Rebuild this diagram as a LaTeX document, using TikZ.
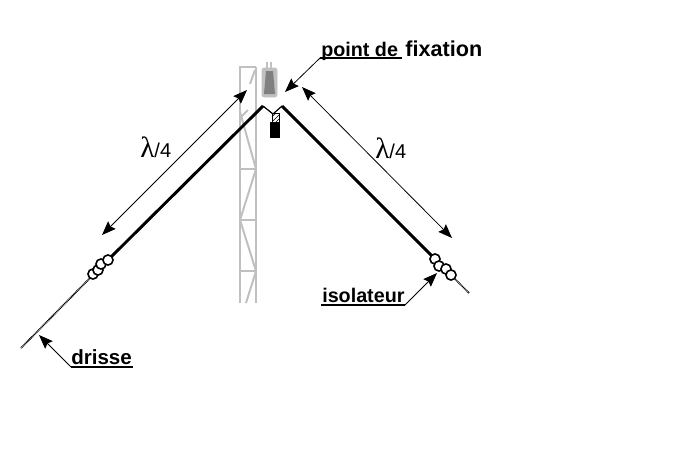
\documentclass[tikz,border=0pt]{standalone}
\usepackage{fontspec}
\setmainfont{Liberation Sans}
\newfontfamily\greekfont{Liberation Serif}
\usetikzlibrary{positioning}
\usetikzlibrary{arrows.meta}
\definecolor{towergray}{RGB}{192,192,192}
\definecolor{blockgray}{RGB}{128,128,128}
\tikzstyle{novertex} = [draw=none, fill=none, inner sep=0pt, anchor=base west, font=\fontsize{14.8}{15}\selectfont\bfseries]
\tikzstyle{lambdanode} = [draw=none, fill=none, inner sep=0pt, anchor=base west, font=\fontsize{15}{15}\selectfont]
\tikzstyle{tower} = [draw=towergray, line width=1.5pt]
\tikzstyle{wire} = [draw, line width=2.2pt]
\tikzstyle{rope} = [draw, line width=1.3pt, dash pattern=on 0.7pt off 0.5pt]
\tikzstyle{bead} = [circle, draw, fill=white, line width=1.2pt, inner sep=0pt, minimum size=7.6pt]
\tikzstyle{measure} = [draw, line width=0.6pt, {Stealth[length=10.5pt,width=8pt,inset=1.5pt]}-{Stealth[length=10.5pt,width=8pt,inset=1.5pt]}]
\tikzstyle{leader} = [draw, line width=0.6pt, -{Stealth[length=10.5pt,width=8pt,inset=1.5pt]}]
\tikzstyle{underline} = [draw, line width=0.9pt]

\begin{document}
\begin{tikzpicture}[x=0.75pt, y=-0.75pt]
	\useasboundingbox (0,0) rectangle (680,472);
	% mast
	\draw [tower] (256,67) -- (240,67) -- (240,303);
	\draw [tower] (256,67) -- (256,303);
	\draw [tower] (240,169) -- (256,169);
	\draw [tower] (240,220) -- (256,220);
	\draw [tower] (240,271) -- (256,271);
	\draw [tower] (255,70) -- (250,84);
	\draw [tower] (240,112) -- (256,169) -- (240,220) -- (256,271) -- (246,303);
	\draw [tower] (240,118) -- (248,110);
	% fixing block
	\draw [towergray, line width=1pt] (267,62) -- (267,68) (271,62) -- (271,68);
	\draw [draw=towergray, fill=towergray, rounded corners=1.5pt] (262,68) rectangle (277,97);
	\draw [draw=none, fill=blockgray] (266,71) -- (273,71) -- (275,94) -- (264,94) -- cycle;
	\draw [fill=white, line width=0.5pt] (272,113) rectangle (279,122);
	\draw [line width=0.4pt] (272,117) -- (276,113) (273,121) -- (279,115) (276,122) -- (279,119);
	\draw [fill=black] (270,122) rectangle (279,137);
	% place nodes
	\coordinate (topL) at (263,106);
	\coordinate (topR) at (282,106);
	\coordinate (hang) at (273,114);
	\coordinate (insL) at (110,258);
	\coordinate (insR) at (433,257);
	\coordinate (ropeL) at (92,276);
	\coordinate (ropeR) at (453,277);
	\coordinate (endL) at (21,348);
	\coordinate (endR) at (469,293);
	\coordinate (spanLa) at (247,90);
	\coordinate (spanLb) at (102,235);
	\coordinate (spanRa) at (302,87);
	\coordinate (spanRb) at (452,238);
	\coordinate (fixTip) at (285,92);
	\coordinate (fixKnee) at (320,58);
	\coordinate (fixEnd) at (402,58);
	\coordinate (isoTip) at (437,273);
	\coordinate (isoKnee) at (405,305);
	\coordinate (isoEnd) at (321,305);
	\coordinate (driTip) at (39,335);
	\coordinate (driKnee) at (71,367);
	\coordinate (driEnd) at (133,367);
	\node [novertex] (Nfix) at (321,56) {point de\hspace{1.5pt} {\fontsize{16.2}{16}\selectfont fixation}};
	\node [novertex] (Niso) at (322,302) {isolateur};
	\node [novertex, font=\fontsize{15.4}{15}\selectfont\bfseries] (Ndri) at (71,364) {drisse};
	\node [lambdanode] (Nla) at (140,157) {{\greekfont\fontsize{22}{22}\selectfont λ}/4};
	\node [lambdanode] (Nlb) at (375,158) {{\greekfont\fontsize{22}{22}\selectfont λ}/4};

	% draw edges
	\path [rope] (ropeL) -- (endL);
	\path [rope] (ropeR) -- (endR);
	\path [wire] (insL) -- (topL);
	\path [wire] (insR) -- (topR);
	\draw [line width=0.9pt] (topL) -- (hang);
	\draw [line width=0.9pt] (topR) -- (hang);
	\path [measure] (spanLa) -- (spanLb);
	\path [measure] (spanRa) -- (spanRb);
	\path [leader] (fixKnee) -- (fixTip);
	\path [leader] (isoKnee) -- (isoTip);
	\path [leader] (driKnee) -- (driTip);
	\path [underline] (fixKnee) -- (fixEnd);
	\path [underline] (isoKnee) -- (isoEnd);
	\path [underline] (driKnee) -- (driEnd);
	% insulators
	\node [bead] (B1) at (93,274) {};
	\node [bead] (B2) at (98,270) {};
	\node [bead] (B3) at (101,264) {};
	\node [bead] (B4) at (108,260) {};
	\node [bead] (B5) at (435,259) {};
	\node [bead] (B6) at (439,266) {};
	\node [bead] (B7) at (446,269) {};
	\node [bead] (B8) at (451,275) {};
\end{tikzpicture}
\end{document}
